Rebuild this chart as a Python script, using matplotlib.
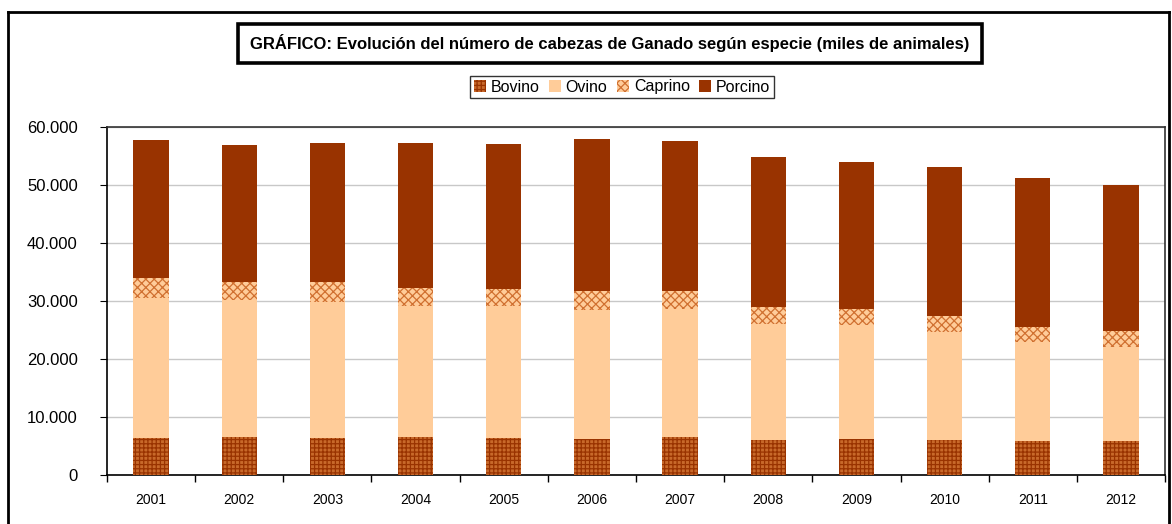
import matplotlib
matplotlib.use("Agg")
import matplotlib.pyplot as plt
from matplotlib.patches import Rectangle
from matplotlib.lines import Line2D
from matplotlib.ticker import FuncFormatter, FixedLocator
import numpy as np

plt.rcParams['font.family'] = ['Liberation Sans', 'DejaVu Sans']
plt.rcParams['hatch.linewidth'] = 0.9

years = ['2001', '2002', '2003', '2004', '2005', '2006', '2007', '2008', '2009', '2010', '2011', '2012']
bovino = [6400, 6500, 6400, 6600, 6400, 6200, 6600, 6100, 6200, 6000, 5900, 5900]
ovino = [24200, 23700, 23500, 22600, 22800, 22300, 22100, 19900, 19600, 18600, 17000, 16200]
caprino = [3400, 3100, 3400, 3000, 2800, 3200, 3000, 3000, 2900, 2900, 2700, 2800]
porcino = [23700, 23600, 23900, 25000, 25000, 26200, 25900, 25800, 25300, 25600, 25600, 25100]
series_names = ['Bovino', 'Ovino', 'Caprino', 'Porcino']
title = 'GRÁFICO: Evolución del número de cabezas de Ganado según especie (miles de animales)'

W, H = 1172, 524
fig = plt.figure(figsize=(W / 100, H / 100), dpi=100)
ax = fig.add_axes([107 / W, 1 - 475 / H, (1165 - 107) / W, (475 - 127) / H])

x = np.arange(len(years))
bw = 0.4
b = np.zeros(len(years))
styles = [
    dict(facecolor='#C8692A', edgecolor='#993300', hatch='++++', linewidth=0),
    dict(facecolor='#FFCC99', edgecolor='#FFCC99', linewidth=0),
    dict(facecolor='#FFCC99', edgecolor='#D07030', hatch='xxxx', linewidth=0),
    dict(facecolor='#993300', edgecolor='#993300', linewidth=0),
]
handles = []
for vals, name, st in zip([bovino, ovino, caprino, porcino], series_names, styles):
    v = np.array(vals, dtype=float)
    bars = ax.bar(x, v, bw, bottom=b, label=name, zorder=3, **st)
    handles.append(bars)
    b += v

ax.set_xlim(-0.5, len(years) - 0.5)
ax.set_ylim(0, 60000)
ax.set_yticks(np.arange(0, 60001, 10000))
ax.yaxis.set_major_formatter(FuncFormatter(lambda v, p: f"{int(v):,}".replace(',', '.')))
ax.yaxis.grid(True, color='#c8c8c8', linewidth=1, zorder=0)
ax.set_axisbelow(True)
ax.set_xticks(x)
ax.set_xticklabels(years, fontsize=10)
ax.xaxis.set_minor_locator(FixedLocator(np.arange(-0.5, len(years), 1.0)))
ax.tick_params(axis='x', which='major', length=0, pad=13)
ax.tick_params(axis='x', which='minor', length=5, direction='out', width=1)
ax.tick_params(axis='y', which='major', length=5, direction='out', labelsize=12, pad=16)
for s in ['left', 'bottom']:
    ax.spines[s].set_color('black')
    ax.spines[s].set_linewidth(1.2)
for s in ['top', 'right']:
    ax.spines[s].set_color('#333333')
    ax.spines[s].set_linewidth(1.2)

# outer chart frame
def fx(px):
    return px / W
def fy(py):
    return 1 - py / H
fig.add_artist(Line2D([fx(7.5), fx(7.5)], [fy(11.5), fy(530)], color='black', lw=2, transform=fig.transFigure))
fig.add_artist(Line2D([fx(7.5), fx(1169)], [fy(11.5), fy(11.5)], color='black', lw=2, transform=fig.transFigure))
fig.add_artist(Line2D([fx(1169), fx(1169)], [fy(11.5), fy(530)], color='black', lw=2, transform=fig.transFigure))

# title box
fig.add_artist(Rectangle((fx(238), fy(63)), fx(982) - fx(238), fy(24) - fy(63), fill=False,
                         edgecolor='black', linewidth=2.6, transform=fig.transFigure))
fig.text(fx(610), fy(43.5), title, ha='center', va='center', fontsize=12, fontweight='bold')

leg = fig.legend(handles=handles, labels=series_names, loc='center', bbox_to_anchor=(fx(622), fy(87)),
                 ncol=4, frameon=True, fancybox=False, edgecolor='black', fontsize=11.5,
                 handlelength=0.75, handleheight=0.75, handletextpad=0.3, columnspacing=0.6,
                 borderpad=0.25, borderaxespad=0)
leg.get_frame().set_linewidth(1.0)

fig.savefig('out.png', dpi=100)
